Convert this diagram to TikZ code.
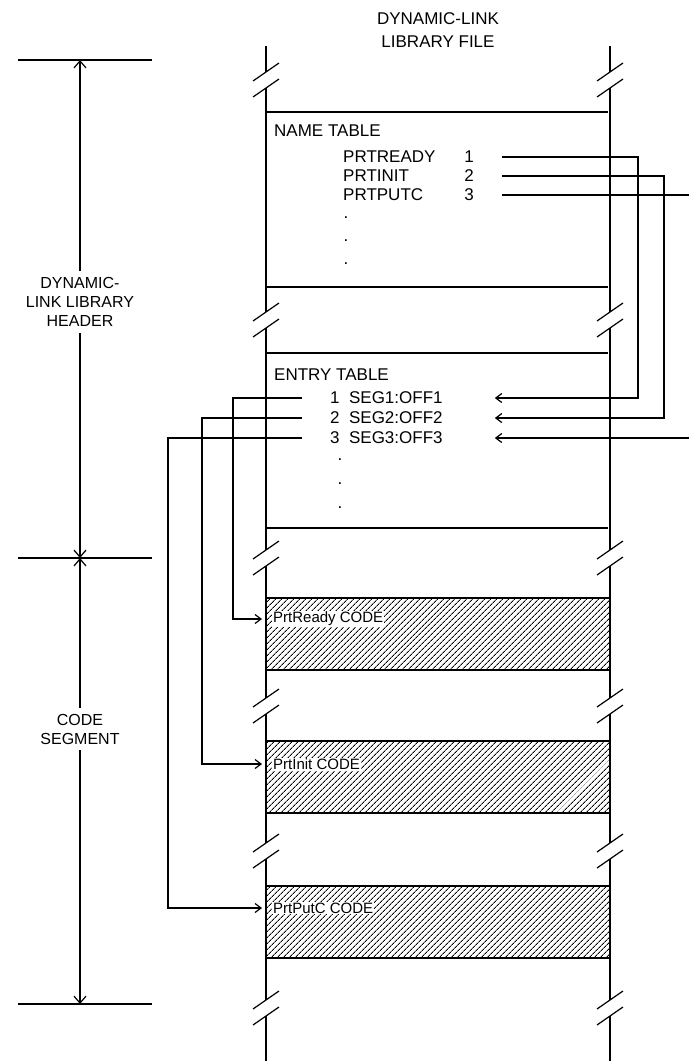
\documentclass[tikz,border=0pt]{standalone}
\usepackage{fontspec}
\setmainfont{Liberation Sans}
\usetikzlibrary{positioning,arrows.meta,calc,patterns.meta}

\begin{document}
\begin{tikzpicture}[x=1pt,y=-1pt,
  wall/.style={line width=1.5pt},
  rule/.style={line width=1.2pt},
  link/.style={line width=1.2pt,-{Straight Barb[length=6pt,width=9pt]}},
  dim/.style={line width=1.2pt,-{Straight Barb[length=7pt,width=12pt]}},
  tbl/.style={inner sep=0pt,font=\fontsize{17}{20}\selectfont},
  lbl/.style={align=center,inner sep=6pt,font=\fontsize{16}{19}\selectfont},
  codebox/.style={draw,line width=1.2pt,minimum width=344pt,minimum height=72pt,inner sep=0pt,
    pattern={Lines[angle=45,distance=4pt,line width=0.9pt]}},
  codelbl/.style={fill=white,inner sep=1pt,font=\fontsize{15}{18}\selectfont}]
\useasboundingbox (0,0) rectangle (689,1061);

\node[lbl,inner sep=0pt,font=\fontsize{17}{23}\selectfont] (title) at (438,30) {DYNAMIC-LINK\\LIBRARY FILE};

\foreach \a/\b in {46/72,88/312,328/550,566/698,714/843,859/1000,1016/1061}{
  \draw[wall] (266,\a) -- (266,\b);
  \draw[wall] (610,\a) -- (610,\b);
}
\foreach \c in {80,320,558,706,851,1008}
  \foreach \x in {266,610}{
    \draw[rule] (\x-13,\c+1) -- (\x+13,\c-17);
    \draw[rule] (\x-13,\c+17) -- (\x+13,\c-1);
  }

\draw[rule] (266,112) -- (608,112);
\draw[rule] (266,287) -- (608,287);
\node[tbl,anchor=west] (ntab) at (274,131) {NAME TABLE};
\node[tbl,anchor=west] (nm1) at (343,157) {PRTREADY};
\node[tbl,anchor=west] (nm2) at (343,176) {PRTINIT};
\node[tbl,anchor=west] (nm3) at (343,195) {PRTPUTC};
\node[tbl,anchor=east] (n1) at (474,157) {1};
\node[tbl,anchor=east] (n2) at (474,176) {2};
\node[tbl,anchor=east] (n3) at (474,195) {3};
\foreach \y [count=\i] in {218,241,264} \node[tbl] (ndot\i) at (346,\y) {.};

\draw[rule] (266,353) -- (608,353);
\draw[rule] (266,528) -- (608,528);
\node[tbl,anchor=west] (etab) at (274,375) {ENTRY TABLE};
\node[tbl,anchor=west] (e1) at (330,398) {1~~SEG1:OFF1};
\node[tbl,anchor=west] (e2) at (330,418) {2~~SEG2:OFF2};
\node[tbl,anchor=west] (e3) at (330,438) {3~~SEG3:OFF3};
\foreach \y [count=\i] in {460,484,508} \node[tbl] (edot\i) at (340,\y) {.};

\node[codebox] (rdy) at (438,634) {};
\node[codebox] (init) at (438,777) {};
\node[codebox] (putc) at (438,922) {};
\node[codelbl,anchor=west] (rdylbl) at (272,619) {PrtReady CODE};
\node[codelbl,anchor=west] (initlbl) at (272,764) {PrtInit CODE};
\node[codelbl,anchor=west] (putclbl) at (272,908) {PrtPutC CODE};

\coordinate (r1) at (638,398);
\coordinate (r2) at (664,418);
\coordinate (r3a) at (689,195);
\coordinate (r3b) at (689,438);
\draw[link,shorten <=28pt,shorten >=52pt] (n1.east) -| (r1) -- (e1.east);
\draw[link,shorten <=28pt,shorten >=52pt] (n2.east) -| (r2) -- (e2.east);
\draw[rule,shorten <=28pt] (n3.east) -- (r3a);
\draw[link,shorten >=52pt] (r3b) -- (e3.east);

\coordinate (l1) at (233,619);
\coordinate (l2) at (202,764);
\coordinate (l3) at (168,908);
\draw[link,shorten <=28pt,shorten >=10pt] (e1.west) -| (l1) -- (rdylbl.west);
\draw[link,shorten <=28pt,shorten >=10pt] (e2.west) -| (l2) -- (initlbl.west);
\draw[link,shorten <=28pt,shorten >=10pt] (e3.west) -| (l3) -- (putclbl.west);

\coordinate (dtop) at (80,60);
\coordinate (dmid) at (80,558);
\coordinate (dbot) at (80,1004);
\foreach \p in {dtop,dmid,dbot} \draw[rule] ([xshift=-62pt]\p) -- ([xshift=72pt]\p);
\node[lbl] (hdr) at (80,302) {DYNAMIC-\\LINK LIBRARY\\HEADER};
\node[lbl] (seg) at (80,729) {CODE\\SEGMENT};
\draw[dim] (hdr) -- (dtop);
\draw[dim] (hdr) -- (dmid);
\draw[dim] (seg) -- (dmid);
\draw[dim] (seg) -- (dbot);
\end{tikzpicture}
\end{document}
